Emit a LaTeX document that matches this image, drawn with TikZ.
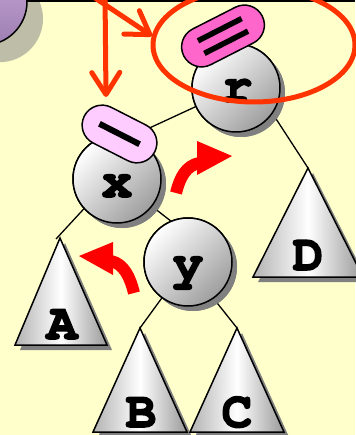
\documentclass[tikz,border=0pt]{standalone}
\usepackage{fontspec}
\newfontfamily\cour[BoldFeatures={FakeBold=3}]{TeX Gyre Cursor}
\usetikzlibrary{arrows.meta,shadows,shapes.misc,shapes.geometric}
\definecolor{bg}{HTML}{FFFFCC}
\definecolor{hot}{HTML}{FF66CC}
\definecolor{lpink}{HTML}{FFCCFF}
\definecolor{orng}{HTML}{FF3300}
\definecolor{purpA}{HTML}{C8AAD8}
\definecolor{purpB}{HTML}{9E7EB2}
\definecolor{shad}{HTML}{BEBEA8}
\begin{document}
\begin{tikzpicture}[x=1pt,y=-1pt,
  treenode/.style={circle, draw, line width=1.5pt, minimum size=88pt, inner sep=0pt,
    top color=white, bottom color=black!38, shading angle=45,
    general shadow={fill=black!50, shadow xshift=5pt, shadow yshift=-5pt}},
  tri/.style={draw, line width=1.5pt, left color=black!30, right color=black!40, middle color=white,
    general shadow={fill=black!50, shadow xshift=5pt, shadow yshift=-5pt}},
  edge/.style={line width=1.3pt},
  pill/.style={rounded rectangle, draw, line width=1.5pt, minimum height=40pt, inner sep=0pt},
  lab/.style={font=\cour\bfseries\fontsize{51}{51}\selectfont, anchor=base, inner sep=0pt},
  orarrow/.style={draw=orng, line width=5pt, line cap=round,
    -{Straight Barb[length=22pt, width=28pt, round]}},
  redarrow/.style={draw=red, line width=12pt}
]
\useasboundingbox (0,0) rectangle (355,435);
\fill[bg] (0,0) rectangle (355,435);

% purple circle at top left
\fill[shad] (-0.5,18.7) circle[radius=43.5pt];
\draw[line width=2pt] (0,1) -- (355,1);
\node[circle, draw, line width=1.5pt, minimum size=87pt, inner sep=0pt,
  top color=purpA, bottom color=purpB] (pc) at (-16.5,1.7) {};

% coordinates
\coordinate (xtop) at (117,143);
\coordinate (Aend) at (56,239);

% subtrees
\path[tri] (60,238) coordinate (Atop) -- (15,345) -- (107,345) -- cycle;
\path[tri] (140,328) coordinate (Btop) -- (93,432) -- (187,432) -- cycle;
\path[tri] (237,328) coordinate (Ctop) -- (190,432) -- (284,432) -- cycle;
\path[tri] (308,168) coordinate (Dtop) -- (253,277) -- (363,277) -- cycle;

% tree nodes
\node[treenode] (r) at (236,88) {};
\node[treenode] (x) at (117,179) {};
\node[treenode] (y) at (188,262) {};

% edges
\draw[edge] (r.center) -- (xtop);
\draw[edge] (r.-35) -- (Dtop);
\draw[edge] (x.222) -- (Aend);
\draw[edge] (x.-38) -- (y.113);
\draw[edge] (y.234) -- (Btop);
\draw[edge] (y.-55) -- (Ctop);

% redraw nodes on top of edges
\node[treenode] at (r.center) {};
\node[treenode] at (x.center) {};
\node[treenode] at (y.center) {};

% pills
\node[pill, fill=hot, minimum width=88pt, rotate=27] (eq) at (223,36) {};
\begin{scope}[shift={(eq.center)}, rotate=27]
  \fill (-24.5,-9.8) rectangle (24.5,-4.3);
  \fill (-24.5,4.3) rectangle (24.5,9.8);
\end{scope}
\node[pill, fill=lpink, minimum width=79pt, rotate=-27] (mn) at (119.5,134) {};
\begin{scope}[shift={(mn.center)}, rotate=-27]
  \fill (-22.5,-3) rectangle (22.5,3);
\end{scope}

% labels
\node[lab] (lr) at (237,102) {r};
\node[lab] (lx) at (117,197) {x};
\node[lab] (ly) at (188,279) {y};
\node[lab] (lA) at (62,339) {A};
\node[lab] (lB) at (141,427) {B};
\node[lab] (lC) at (237,427) {C};
\node[lab] (lD) at (308,270) {D};

% red rotation arrows
\fill[red] (197,141) -- (232,156) -- (197,175) -- cycle;
\draw[redarrow] (176,193) .. controls (180,177) and (186,166) .. (199,163);
\fill[red] (113,242) -- (79,256) -- (113,275) -- cycle;
\draw[redarrow] (134,293) .. controls (130,277) and (124,264) .. (111,261);

% orange annotations
\coordinate (o1) at (105,-6);
\coordinate (o2) at (106,97);
\coordinate (o3) at (89,-6);
\coordinate (o4) at (152,36);
\draw[orarrow] (o1) -- (o2);
\draw[orarrow] (o3) -- (o4);
\node[ellipse, draw=orng, line width=5pt, minimum width=202pt, minimum height=114pt, inner sep=0pt] (ell) at (254,45) {};
\end{tikzpicture}
\end{document}
